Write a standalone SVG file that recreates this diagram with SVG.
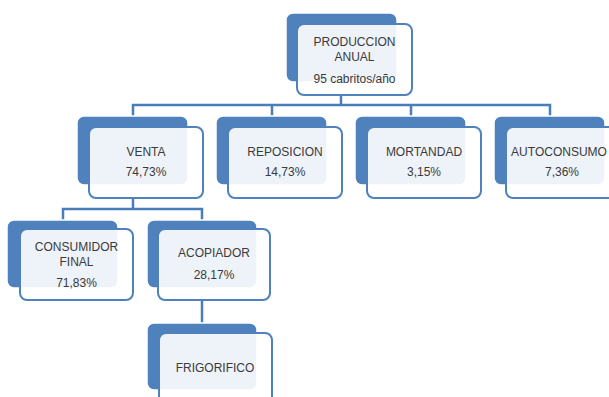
<svg xmlns="http://www.w3.org/2000/svg" width="609" height="397" viewBox="0 0 609 397">
<style>
.back{fill:#4F81BD;stroke:#ffffff;stroke-width:1.5}
.front{fill:#ffffff;fill-opacity:0.9;stroke:#4F81BD;stroke-width:2}
.conn{fill:none;stroke:#4A7EBB;stroke-width:2.5}
text{font-family:"Liberation Sans",Arial,sans-serif;font-size:12px;fill:#3A3A3A;text-anchor:middle}
</style>
<rect width="609" height="397" fill="#ffffff"/>
<g id="connectors">
<path class="conn" d="M341,95 V105 M133,116 V105 H550 V116 M272,105 V116 M411,105 V116"/>
<path class="conn" d="M133,198 V209 M63,220 V209 H202 V220"/>
<path class="conn" d="M202,300 V323"/>
</g>
<g id="produccion">
<rect class="back" x="286" y="13" width="111" height="69" rx="7"/>
<rect class="front" x="297" y="24" width="115" height="71" rx="7"/>
<text x="354.5" y="46">PRODUCCION</text>
<text x="354.5" y="61">ANUAL</text>
<text x="354.5" y="83">95 cabritos/año</text>
</g>
<g id="venta">
<rect class="back" x="77" y="116" width="111" height="69" rx="7"/>
<rect class="front" x="89" y="127" width="114" height="71" rx="7"/>
<text x="146" y="156">VENTA</text>
<text x="146" y="176">74,73%</text>
</g>
<g id="reposicion">
<rect class="back" x="216" y="116" width="111" height="69" rx="7"/>
<rect class="front" x="228" y="127" width="114" height="71" rx="7"/>
<text x="285" y="156">REPOSICION</text>
<text x="285" y="176">14,73%</text>
</g>
<g id="mortandad">
<rect class="back" x="355" y="116" width="111" height="69" rx="7"/>
<rect class="front" x="367" y="127" width="114" height="71" rx="7"/>
<text x="424" y="156">MORTANDAD</text>
<text x="424" y="176">3,15%</text>
</g>
<g id="autoconsumo">
<rect class="back" x="494" y="116" width="111" height="69" rx="7"/>
<rect class="front" x="506" y="127" width="114" height="71" rx="7"/>
<text x="559" y="156" font-size="11.8">AUTOCONSUMO</text>
<text x="562" y="176">7,36%</text>
</g>
<g id="consumidor">
<rect class="back" x="7" y="220" width="111" height="68" rx="7"/>
<rect class="front" x="20" y="229" width="113" height="71" rx="7"/>
<text x="76.5" y="251">CONSUMIDOR</text>
<text x="76.5" y="266">FINAL</text>
<text x="76.5" y="287">71,83%</text>
</g>
<g id="acopiador">
<rect class="back" x="147" y="220" width="110" height="68" rx="7"/>
<rect class="front" x="158" y="229" width="112" height="71" rx="7"/>
<text x="214" y="257">ACOPIADOR</text>
<text x="214" y="279">28,17%</text>
</g>
<g id="frigorifico">
<rect class="back" x="147" y="323" width="110" height="67" rx="7"/>
<rect class="front" x="159" y="333" width="113" height="71" rx="7"/>
<text x="215" y="372">FRIGORIFICO</text>
</g>
</svg>
